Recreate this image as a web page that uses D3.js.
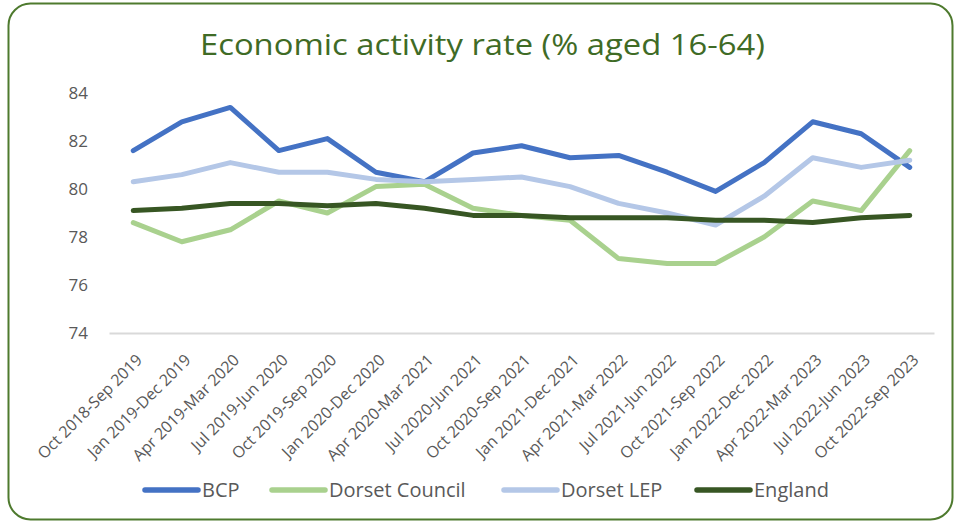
<!DOCTYPE html>
<html>
<head>
<meta charset="utf-8">
<script src="https://cdn.jsdelivr.net/npm/d3@7"></script>
<style>
  html, body { margin: 0; padding: 0; background: #fff; }
  svg { display: block; }
  text { font-family: "Open Sans", "Noto Sans", sans-serif; }
</style>
</head>
<body>
<svg id="chart" width="961" height="524"></svg>
<script>
// Rolling 12-month periods
const periods = [
  "Oct 2018-Sep 2019", "Jan 2019-Dec 2019", "Apr 2019-Mar 2020", "Jul 2019-Jun 2020",
  "Oct 2019-Sep 2020", "Jan 2020-Dec 2020", "Apr 2020-Mar 2021", "Jul 2020-Jun 2021",
  "Oct 2020-Sep 2021", "Jan 2021-Dec 2021", "Apr 2021-Mar 2022", "Jul 2021-Jun 2022",
  "Oct 2021-Sep 2022", "Jan 2022-Dec 2022", "Apr 2022-Mar 2023", "Jul 2022-Jun 2023",
  "Oct 2022-Sep 2023"
];

// Economic activity rate, % aged 16-64
const bcp            = [81.6, 82.8, 83.4, 81.6, 82.1, 80.7, 80.3, 81.5, 81.8, 81.3, 81.4, 80.7, 79.9, 81.1, 82.8, 82.3, 80.9];
const dorsetCouncil  = [78.6, 77.8, 78.3, 79.5, 79.0, 80.1, 80.2, 79.2, 78.9, 78.7, 77.1, 76.9, 76.9, 78.0, 79.5, 79.1, 81.6];
const dorsetLEP      = [80.3, 80.6, 81.1, 80.7, 80.7, 80.4, 80.3, 80.4, 80.5, 80.1, 79.4, 79.0, 78.5, 79.7, 81.3, 80.9, 81.2];
const england        = [79.1, 79.2, 79.4, 79.4, 79.3, 79.4, 79.2, 78.9, 78.9, 78.8, 78.8, 78.8, 78.7, 78.7, 78.6, 78.8, 78.9];

const seriesNames  = ["BCP", "Dorset Council", "Dorset LEP", "England"];
const seriesValues = [bcp, dorsetCouncil, dorsetLEP, england];
const seriesColors = ["#4472C4", "#A9D18E", "#B4C7E7", "#375623"];

const yTicks = [74, 76, 78, 80, 82, 84];

const svg = d3.select("#chart");

// Chart frame
svg.append("rect")
  .attr("x", 8.5).attr("y", 3.5)
  .attr("width", 944).attr("height", 516)
  .attr("rx", 22).attr("ry", 22)
  .attr("fill", "#fff")
  .attr("stroke", "#4E7A2E")
  .attr("stroke-width", 2);

// Title
svg.append("text")
  .attr("x", 200).attr("y", 55)
  .attr("font-size", 29)
  .attr("fill", "#3F6B26")
  .attr("textLength", 565)
  .attr("lengthAdjust", "spacingAndGlyphs")
  .text("Economic activity rate (% aged 16-64)");

const x = d3.scaleBand().domain(periods).range([109, 934]);
const y = d3.scaleLinear().domain([74, 84]).range([333, 93]);

// Y axis labels
const yAxis = d3.axisLeft(y).tickValues(yTicks).tickSize(0).tickPadding(0);
const gy = svg.append("g").attr("transform", "translate(88,0)").call(yAxis);
gy.select(".domain").remove();
gy.selectAll("text")
  .attr("font-size", 17)
  .attr("fill", "#595959")
  .attr("font-family", null);

// X axis baseline and rotated category labels
const xAxis = d3.axisBottom(x).tickSize(0).tickPadding(0);
const gx = svg.append("g").attr("transform", `translate(0,${y(74)})`).call(xAxis);
gx.select(".domain")
  .attr("stroke", "#D9D9D9")
  .attr("stroke-width", 2);
gx.selectAll(".tick text")
  .attr("font-size", 16)
  .attr("fill", "#595959")
  .attr("font-family", null)
  .attr("text-anchor", "end")
  .attr("y", 0)
  .attr("dy", 0)
  .attr("transform", "translate(10,28) rotate(-45)");

// Series lines
const line = d3.line()
  .x((d, i) => x(periods[i]) + x.bandwidth() / 2)
  .y(d => y(d));

svg.append("g")
  .selectAll("path")
  .data(seriesValues)
  .join("path")
  .attr("d", line)
  .attr("fill", "none")
  .attr("stroke", (d, i) => seriesColors[i])
  .attr("stroke-width", 5)
  .attr("stroke-linejoin", "round")
  .attr("stroke-linecap", "round");

// Legend
const legendX = [143, 270, 502, 695];
const legend = svg.append("g")
  .selectAll("g")
  .data(seriesNames)
  .join("g")
  .attr("transform", (d, i) => `translate(${legendX[i]},490)`);
legend.append("line")
  .attr("x1", 2).attr("x2", 55)
  .attr("stroke", (d, i) => seriesColors[i])
  .attr("stroke-width", 5.5)
  .attr("stroke-linecap", "round");
legend.append("text")
  .attr("x", 59).attr("dy", "0.35em")
  .attr("font-size", 20)
  .attr("fill", "#595959")
  .text(d => d);
</script>
</body>
</html>
